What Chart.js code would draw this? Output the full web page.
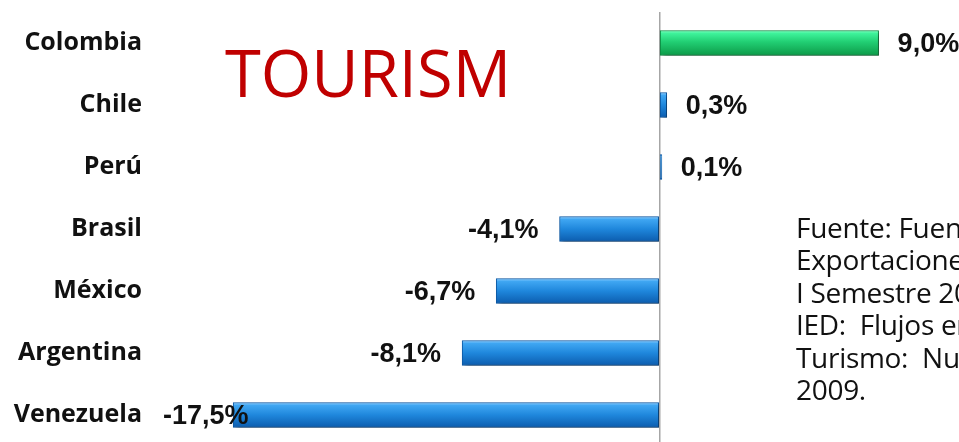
<!DOCTYPE html>
<html>
<head>
<meta charset="utf-8">
<script src="https://cdn.jsdelivr.net/npm/chart.js@4.4.1/dist/chart.umd.min.js"></script>
<style>
  html, body { margin: 0; padding: 0; background: #fff; overflow: hidden; }
  .wrap { position: relative; width: 959px; height: 442px; overflow: hidden; }
  canvas { position: absolute; left: 0; top: 0; }
  .title {
    position: absolute; left: 225px; top: 40px;
    font: 400 65px "Open Sans", sans-serif; color: #c00000;
    line-height: 1; white-space: nowrap;
  }
  .source {
    position: absolute; left: 796px; top: 211px;
    font: 400 28px "Open Sans", sans-serif; color: #111;
    line-height: 32.4px; white-space: nowrap; letter-spacing: -0.3px;
  }
</style>
</head>
<body>
<div class="wrap">
  <canvas id="c" width="959" height="446"></canvas>
  <div class="title">TOURISM</div>
  <div class="source">
    Fuente: Fuentes oficiales<br>
    Exportaciones: enero-junio<br>
    I Semestre 2009<br>
    IED:&nbsp; Flujos enero-junio<br>
    Turismo:&nbsp; Numero de visitantes<br>
    2009.
  </div>
</div>
<script>
// Tourism growth by country, % change
const countries = ["Colombia", "Chile", "Perú", "Brasil", "México", "Argentina", "Venezuela"];
const growth = [9.0, 0.3, 0.1, -4.1, -6.7, -8.1, -17.5];
const highlight = "Colombia";

const fmt = (v) => v.toFixed(1).replace(".", ",") + "%";

// vertical gradient per bar, built off the y scale so it lines up with each bar
function barFill(c) {
  const isHi = countries[c.dataIndex] === highlight;
  const fallback = isHi ? "#18b85c" : "#1e84d8";
  const ys = c.chart.scales && c.chart.scales.y;
  if (!ys || !isFinite(ys.getPixelForValue(c.dataIndex))) return fallback;
  const cy = ys.getPixelForValue(c.dataIndex);
  const g = c.chart.ctx.createLinearGradient(0, cy - 12.5, 0, cy + 12.5);
  if (isHi) {
    g.addColorStop(0, "#7dffc0");
    g.addColorStop(0.12, "#3ef29a");
    g.addColorStop(0.45, "#22cf74");
    g.addColorStop(1, "#0c9a48");
  } else {
    g.addColorStop(0, "#8ccdff");
    g.addColorStop(0.12, "#3fa6f2");
    g.addColorStop(0.5, "#1f87dc");
    g.addColorStop(1, "#0c5cae");
  }
  return g;
}

const shadow = {
  id: "shadow",
  beforeDatasetsDraw(chart) {
    const ctx = chart.ctx;
    ctx.save();
    ctx.shadowColor = "rgba(0,0,0,0.35)";
    ctx.shadowBlur = 4;
    ctx.shadowOffsetX = 3;
    ctx.shadowOffsetY = 3;
  },
  afterDatasetsDraw(chart) {
    chart.ctx.restore();
  },
};

const valueLabels = {
  id: "valueLabels",
  afterDatasetsDraw(chart) {
    const ctx = chart.ctx;
    const minLeft = chart.chartArea.left - 19;
    ctx.save();
    ctx.font = 'bold 27px "Liberation Sans Narrow", "Arial Narrow", "Liberation Sans", sans-serif';
    ctx.fillStyle = "#111";
    ctx.textBaseline = "middle";
    ctx.textAlign = "left";
    chart.getDatasetMeta(0).data.forEach((bar, i) => {
      const v = growth[i];
      const txt = fmt(v);
      const w = ctx.measureText(txt).width;
      if (v >= 0) {
        ctx.fillText(txt, bar.x + 19, bar.y + 2);
      } else {
        // Venezuela's label runs into the bar instead of the country names
        const left = Math.max(minLeft, bar.x - 21 - w);
        ctx.fillText(txt, left, bar.y + 2);
      }
    });
    ctx.restore();
  },
};

new Chart(document.getElementById("c"), {
  type: "bar",
  data: {
    labels: countries,
    datasets: [{
      data: growth,
      backgroundColor: barFill,
      borderColor: (c) => countries[c.dataIndex] === highlight ? "#0b8a40" : "#0b58a4",
      borderWidth: 1,
      borderSkipped: false,
      barThickness: 25,
    }],
  },
  options: {
    indexAxis: "y",
    responsive: false,
    animation: false,
    layout: { padding: { top: 12, left: 0, right: 0, bottom: 0 } },
    plugins: { legend: { display: false }, tooltip: { enabled: false } },
    scales: {
      x: {
        min: -19.6,
        max: 12.3,
        afterFit(scale) { scale.height = 0; },
        ticks: { display: false },
        border: { display: false },
        grid: {
          drawTicks: false,
          lineWidth: 1.5,
          color: (c) => (c.tick && c.tick.value === 0 ? "#a6a6a6" : "transparent"),
        },
      },
      y: {
        afterFit(scale) {
          scale.width = 182;
          // tick padding would otherwise pad the plot top and bottom too
          scale.paddingTop = 0;
          scale.paddingBottom = 0;
        },
        border: { display: false },
        grid: { display: false, drawTicks: false },
        ticks: {
          padding: 40,
          color: "#111",
          font: { family: '"Open Sans", sans-serif', weight: "bold", size: 25 },
        },
      },
    },
  },
  plugins: [shadow, valueLabels],
});
</script>
</body>
</html>
